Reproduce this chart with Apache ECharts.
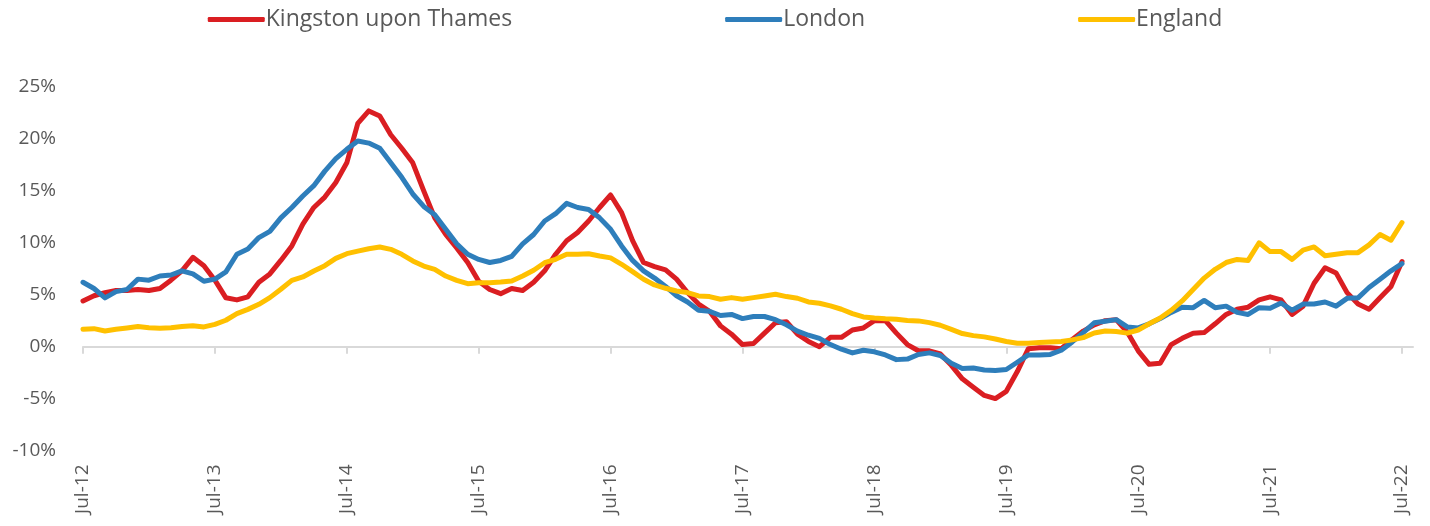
<!DOCTYPE html>
<html>
<head>
<meta charset="utf-8">
<script src="https://cdn.jsdelivr.net/npm/echarts@6/dist/echarts.min.js"></script>
<style>
  html, body { margin: 0; padding: 0; background: #fff; }
  #myCharts { width: 1430px; height: 526px; }
</style>
</head>
<body>
<div id="myCharts"></div>
<script>
// month labels, Jul-12 .. Aug-22 (last slot has no data, axis runs one month past)
var monthNames = ['Jan', 'Feb', 'Mar', 'Apr', 'May', 'Jun', 'Jul', 'Aug', 'Sep', 'Oct', 'Nov', 'Dec'];
var months = [];
for (var k = 0; k < 122; k++) {
  var m = (6 + k) % 12;
  var y = 12 + Math.floor((6 + k) / 12);
  months.push(monthNames[m] + '-' + y);
}

var kingston = [
  4.4, 4.9, 5.2, 5.4, 5.4, 5.5, 5.4, 5.6, 6.4, 7.3, 8.6, 7.8,
  6.4, 4.7, 4.5, 4.8, 6.2, 7.0, 8.3, 9.7, 11.8, 13.4, 14.4, 15.8,
  17.7, 21.5, 22.7, 22.2, 20.4, 19.1, 17.7, 15.0, 12.4, 10.8, 9.5, 8.1,
  6.3, 5.5, 5.1, 5.6, 5.4, 6.2, 7.3, 8.9, 10.2, 11.0, 12.1, 13.4,
  14.6, 12.9, 10.2, 8.1, 7.7, 7.4, 6.5, 5.2, 4.1, 3.4, 2.0, 1.2,
  0.2, 0.3, 1.3, 2.3, 2.4, 1.2, 0.5, 0.0, 0.9, 0.9, 1.6, 1.8,
  2.5, 2.5, 1.3, 0.2, -0.4, -0.4, -0.7, -1.8, -3.1, -3.9, -4.7, -5.0,
  -4.3, -2.4, -0.2, -0.1, -0.1, -0.2, 0.7, 1.5, 2.1, 2.5, 2.6, 1.4,
  -0.4, -1.7, -1.6, 0.2, 0.8, 1.3, 1.35, 2.2, 3.1, 3.6, 3.8, 4.5,
  4.8, 4.5, 3.1, 3.9, 6.1, 7.6, 7.1, 5.2, 4.1, 3.6, 4.7, 5.8,
  8.2
];

var london = [
  6.2, 5.6, 4.7, 5.3, 5.5, 6.5, 6.4, 6.8, 6.9, 7.3, 7.0, 6.3,
  6.5, 7.2, 8.9, 9.4, 10.5, 11.1, 12.4, 13.4, 14.5, 15.5, 16.9, 18.1,
  19.0, 19.8, 19.6, 19.1, 17.7, 16.3, 14.7, 13.5, 12.7, 11.3, 9.9, 8.9,
  8.4, 8.1, 8.3, 8.7, 9.9, 10.8, 12.1, 12.8, 13.8, 13.4, 13.2, 12.4,
  11.3, 9.7, 8.3, 7.3, 6.6, 5.8, 4.9, 4.3, 3.5, 3.4, 3.0, 3.1,
  2.7, 2.9, 2.9, 2.6, 2.1, 1.5, 1.1, 0.8, 0.2, -0.25, -0.6, -0.35,
  -0.5, -0.8, -1.25, -1.2, -0.75, -0.6, -0.85, -1.6, -2.1, -2.05, -2.25, -2.3,
  -2.2, -1.5, -0.8, -0.8, -0.75, -0.35, 0.45, 1.35, 2.3, 2.45, 2.6, 1.9,
  1.8, 2.2, 2.7, 3.3, 3.8, 3.75, 4.45, 3.75, 3.9, 3.3, 3.1, 3.75,
  3.7, 4.2, 3.5, 4.1, 4.1, 4.3, 3.9, 4.65, 4.7, 5.7, 6.5, 7.3,
  8.0
];

var england = [
  1.67, 1.73, 1.5, 1.67, 1.8, 1.93, 1.83, 1.77, 1.83, 1.93, 2.02, 1.9,
  2.15, 2.54, 3.18, 3.59, 4.08, 4.72, 5.52, 6.38, 6.71, 7.28, 7.8, 8.5,
  8.95, 9.2, 9.43, 9.6, 9.37, 8.89, 8.25, 7.76, 7.44, 6.8, 6.38, 6.06,
  6.16, 6.16, 6.22, 6.32, 6.8, 7.35, 8.08, 8.41, 8.89, 8.89, 8.95, 8.73,
  8.55, 7.93, 7.22, 6.49, 5.94, 5.62, 5.36, 5.2, 4.88, 4.82, 4.56, 4.72,
  4.56, 4.72, 4.88, 5.04, 4.82, 4.66, 4.3, 4.18, 3.92, 3.6, 3.18, 2.86,
  2.75, 2.68, 2.64, 2.51, 2.48, 2.31, 2.06, 1.67, 1.26, 1.06, 0.94, 0.74,
  0.49, 0.33, 0.33, 0.39, 0.45, 0.49, 0.65, 0.87, 1.32, 1.51, 1.45, 1.3,
  1.6, 2.2, 2.75, 3.5, 4.4, 5.5, 6.6, 7.45, 8.1, 8.4, 8.3, 10.0,
  9.15, 9.15, 8.4, 9.3, 9.6, 8.75, 8.9, 9.05, 9.05, 9.8, 10.8, 10.25,
  11.95
];

var seriesNames = ['Kingston upon Thames', 'London', 'England'];
var seriesColors = ['#DA1E22', '#2E7EBB', '#FFC000'];
var seriesData = [kingston, london, england];

var yTicks = { min: -10, max: 25, step: 5 };

var font = '"Open Sans", Lato, sans-serif';
var textGrey = '#595959';

var mychart = echarts.init(document.getElementById('myCharts'));

var option = {
  animation: false,
  backgroundColor: '#fff',
  textStyle: { fontFamily: font },
  legend: {
    data: seriesNames,
    left: 'center',
    top: 3,
    icon: 'roundRect',
    itemWidth: 57,
    itemHeight: 5,
    itemGap: 213,
    textStyle: { fontFamily: font, fontSize: 23, color: textGrey, padding: [0, 0, 0, -4] }
  },
  grid: {
    left: 83,
    right: 17,
    top: 87,
    bottom: 75.5,
    containLabel: false
  },
  xAxis: [
    {
      type: 'category',
      data: months,
      boundaryGap: false,
      position: 'bottom',
      axisLine: { show: false, onZero: false },
      axisTick: { show: false },
      axisLabel: {
        interval: 11,
        rotate: 90,
        margin: 14,
        fontFamily: font,
        fontSize: 19,
        color: textGrey
      },
      splitLine: { show: false }
    },
    {
      type: 'category',
      data: months,
      boundaryGap: false,
      position: 'top',
      axisLine: { show: true, onZero: true, lineStyle: { color: '#D9D9D9', width: 2 } },
      axisTick: {
        show: true,
        interval: 11,
        inside: true,
        length: 7,
        lineStyle: { color: '#D9D9D9', width: 2 }
      },
      axisLabel: { show: false },
      splitLine: { show: false }
    }
  ],
  yAxis: {
    type: 'value',
    min: yTicks.min,
    max: yTicks.max,
    interval: yTicks.step,
    axisLine: { show: false },
    axisTick: { show: false },
    splitLine: { show: false },
    axisLabel: {
      formatter: '{value}%',
      margin: 27,
      fontFamily: font,
      fontSize: 19,
      color: textGrey
    }
  },
  series: seriesNames.map(function (name, i) {
    return {
      name: name,
      type: 'line',
      xAxisIndex: 0,
      data: seriesData[i],
      showSymbol: false,
      symbol: 'none',
      color: seriesColors[i],
      lineStyle: { width: 5, color: seriesColors[i], cap: 'round', join: 'round' },
      z: 2 + i
    };
  })
};

mychart.setOption(option);
window.onresize = mychart.resize;
</script>
</body>
</html>
